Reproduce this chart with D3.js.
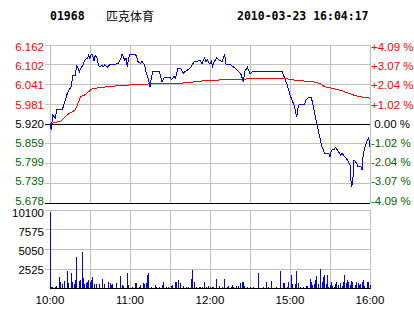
<!DOCTYPE html>
<html><head><meta charset="utf-8">
<script src="https://cdn.jsdelivr.net/npm/d3@7/dist/d3.min.js"></script>
<style>
html,body{margin:0;padding:0;background:#fff;}
svg{display:block;}
text{font-family:"Liberation Sans",Arial,sans-serif;}
</style></head>
<body>
<script>
const stockCode = "01968";
const stockName = "匹克体育";
const stamp = "2010-03-23 16:04:17";
const prevClose = 5.920;
const priceTicks = [6.162, 6.102, 6.041, 5.981, 5.920, 5.859, 5.799, 5.739, 5.678];
const pctTicks = ["+4.09 %", "+3.07 %", "+2.04 %", "+1.02 %", " 0.00 %", "-1.02 %", "-2.04 %", "-3.07 %", "-4.09 %"];
const volTicks = [10100, 7575, 5050, 2525];
const timeTicks = [0, 60, 120, 180, 240];
const timeLabels = ["10:00", "11:00", "12:00", "15:00", "16:00"];
// [trading minute since 10:00, price]
const priceLine = [[0,5.920],[1,5.902],[2,5.948],[4,5.938],[5,5.963],[9,5.963],[10,5.973],[11,5.988],[12,5.999],[13,6.014],[15,6.029],[16,6.034],[17,6.070],[19,6.070],[20,6.101],[22,6.080],[23,6.091],[25,6.101],[26,6.116],[28,6.121],[29,6.131],[30,6.121],[31,6.134],[32,6.131],[33,6.113],[34,6.131],[35,6.126],[36,6.106],[37,6.096],[39,6.099],[40,6.096],[41,6.101],[43,6.094],[45,6.103],[51,6.104],[53,6.119],[54,6.134],[55,6.126],[56,6.116],[57,6.121],[58,6.096],[59,6.121],[60,6.134],[64,6.134],[65,6.126],[66,6.111],[68,6.106],[69,6.111],[70,6.106],[71,6.101],[72,6.080],[74,6.055],[75,6.034],[76,6.060],[77,6.080],[82,6.082],[83,6.065],[84,6.050],[86,6.063],[90,6.063],[91,6.055],[93,6.065],[94,6.060],[95,6.075],[96,6.091],[98,6.091],[100,6.075],[101,6.080],[103,6.085],[105,6.091],[106,6.096],[108,6.111],[113,6.114],[114,6.103],[115,6.116],[116,6.123],[117,6.111],[118,6.116],[120,6.103],[121,6.111],[122,6.096],[123,6.109],[124,6.116],[125,6.123],[127,6.116],[129,6.111],[131,6.134],[132,6.103],[135,6.103],[136,6.099],[139,6.091],[141,6.083],[143,6.075],[145,6.050],[146,6.080],[148,6.094],[149,6.085],[150,6.072],[151,6.078],[153,6.082],[174,6.082],[176,6.060],[178,6.039],[179,6.024],[180,6.009],[181,5.999],[183,5.978],[184,5.963],[185,5.941],[186,5.968],[187,5.981],[191,5.981],[192,5.994],[194,6.002],[196,6.002],[198,5.963],[200,5.922],[202,5.886],[204,5.849],[205,5.840],[206,5.830],[209,5.830],[210,5.818],[211,5.840],[213,5.842],[214,5.849],[216,5.838],[218,5.825],[219,5.830],[221,5.820],[223,5.810],[225,5.794],[226,5.730],[227,5.738],[228,5.810],[230,5.800],[231,5.789],[233,5.791],[234,5.779],[235,5.830],[236,5.846],[238,5.871],[239,5.879],[240,5.849]];
const avgLine = [[0,5.920],[4,5.925],[8,5.929],[10,5.937],[13,5.948],[16,5.956],[19,5.963],[21,5.983],[23,6.004],[26,6.009],[29,6.019],[31,6.027],[36,6.031],[43,6.034],[50,6.037],[58,6.039],[68,6.042],[98,6.045],[106,6.048],[115,6.052],[128,6.055],[148,6.058],[165,6.060],[175,6.060],[180,6.057],[185,6.053],[197,6.050],[203,6.043],[206,6.034],[212,6.029],[219,6.022],[224,6.014],[229,6.007],[235,6.002],[240,5.999]];
const volumeBars = [[0,9900],[1,300],[2,300],[4,300],[5,430],[7,1580],[8,940],[9,640],[11,1060],[13,2340],[14,720],[16,2090],[17,850],[18,640],[19,1150],[20,4130],[22,1060],[23,1150],[24,4690],[25,1400],[26,640],[27,720],[28,940],[29,1150],[30,850],[31,1150],[32,1580],[33,640],[35,640],[37,640],[39,1280],[41,640],[44,850],[45,720],[46,550],[47,640],[50,720],[53,1700],[54,550],[55,430],[58,2000],[59,550],[62,300],[64,720],[65,720],[67,300],[68,550],[70,720],[71,640],[72,720],[73,1790],[74,2000],[76,300],[79,550],[80,300],[82,300],[84,550],[85,850],[87,300],[89,300],[91,430],[92,550],[94,940],[95,850],[96,1150],[98,720],[100,430],[102,300],[104,300],[106,1280],[107,2430],[108,850],[110,300],[112,300],[113,300],[114,300],[116,940],[117,300],[119,430],[120,300],[122,300],[123,300],[125,1280],[127,430],[129,300],[131,1280],[133,300],[134,430],[136,300],[137,550],[138,300],[140,430],[141,430],[143,720],[144,850],[145,940],[146,430],[148,300],[150,300],[153,300],[156,2000],[160,300],[162,940],[164,300],[166,1060],[170,300],[173,2260],[175,720],[176,720],[178,300],[179,850],[181,1830],[182,640],[184,640],[185,2340],[186,720],[188,300],[190,300],[192,430],[193,430],[195,1280],[196,940],[197,550],[198,640],[199,1150],[200,1700],[201,640],[203,2560],[204,940],[205,1580],[206,1830],[207,640],[208,1830],[209,300],[210,550],[211,940],[212,430],[213,300],[214,640],[215,850],[216,550],[218,720],[219,430],[220,850],[221,1830],[222,720],[223,1150],[224,850],[225,550],[226,1060],[227,850],[229,550],[230,850],[231,720],[232,550],[233,640],[234,850],[235,1150],[236,430],[238,940],[239,850],[240,550]];

const W = 414, H = 314;
const RED = "#ff0000", GREEN = "#006600", GRID = "#c0c0c0";
const svg = d3.select("body").append("svg").attr("width", W).attr("height", H);

const x = d3.scaleLinear().domain([0, 240]).range([50, 370]);
const y = d3.scaleLinear().domain([priceTicks[priceTicks.length-1], priceTicks[0]]).range([203, 45]);
const v = d3.scaleLinear().domain([0, volTicks[0]]).range([289, 210]);
// label positions (labels sit on a slightly tighter pitch than the grid, as in the reference)
const yLab = d3.scaleLinear().domain([0, priceTicks.length - 1]).range([47, 200.5]);
const vLab = d3.scaleLinear().domain([0, volTicks.length - 1]).range([212.5, 270.3]);
const px = d => Math.floor(d) + 0.5;

// header
svg.append("text").attr("x", 50).attr("y", 20).text(stockCode)
  .style("font-family", "'DejaVu Sans Mono',monospace").style("font-weight", "bold").style("font-size", "11.5px");
svg.append("text").attr("x", 106).attr("y", 21).text(stockName)
  .style("font-family", "'Noto Sans CJK SC',sans-serif").style("font-size", "12px");
svg.append("text").attr("x", 237).attr("y", 20).text(stamp)
  .style("font-family", "'DejaVu Sans Mono',monospace").style("font-weight", "bold").style("font-size", "11.5px");

const g = svg.append("g").attr("shape-rendering", "crispEdges");

// main grid
priceTicks.forEach((p, i) => {
  const yy = px(y(p));
  const isZero = Math.abs(p - prevClose) < 1e-6;
  const isBottom = i === priceTicks.length - 1;
  g.append("line").attr("x1", 45).attr("x2", 370).attr("y1", yy).attr("y2", yy)
    .attr("stroke", (isZero || isBottom) ? "#000" : GRID);
  const col = p > prevClose + 1e-6 ? RED : (isZero ? "#000" : GREEN);
  const ly = yLab(i) + 4;
  svg.append("text").attr("x", 44).attr("y", ly).attr("text-anchor", "end")
    .attr("fill", col).style("font-size", "11.5px").text(p.toFixed(3));
  svg.append("text").attr("x", 371).attr("y", ly)
    .attr("fill", col).style("font-size", "11.5px").style("white-space", "pre")
    .attr("xml:space", "preserve").text(pctTicks[i]);
});
timeTicks.concat([30, 90, 150, 210]).forEach(t => {
  const xx = px(x(t));
  g.append("line").attr("x1", xx).attr("x2", xx).attr("y1", 45).attr("y2", 203).attr("stroke", GRID);
  g.append("line").attr("x1", xx).attr("x2", xx).attr("y1", 210).attr("y2", 289).attr("stroke", GRID);
});
// redraw black lines on top of verticals
[prevClose, priceTicks[priceTicks.length-1]].forEach(p => {
  const yy = px(y(p));
  g.append("line").attr("x1", 50).attr("x2", 370).attr("y1", yy).attr("y2", yy).attr("stroke", "#000");
});

// volume grid
volTicks.forEach((t, i) => {
  const yy = px(v(t));
  g.append("line").attr("x1", 45).attr("x2", 370).attr("y1", yy).attr("y2", yy).attr("stroke", GRID);
  svg.append("text").attr("x", 44).attr("y", vLab(i) + 4).attr("text-anchor", "end")
    .attr("fill", "#000").style("font-size", "11.5px").text(t);
});

// volume bars
g.selectAll("rect.vol").data(volumeBars).enter().append("rect")
  .attr("x", d => Math.floor(x(d[0]))).attr("width", 1)
  .attr("y", d => Math.round(v(d[1]))).attr("height", d => Math.round(v(0)) - Math.round(v(d[1])))
  .attr("fill", "#0000ff");
g.append("line").attr("x1", 50).attr("x2", 370).attr("y1", px(v(0)) - 1).attr("y2", px(v(0)) - 1).attr("stroke", "#000");

// x labels
timeTicks.forEach((t, i) => {
  svg.append("text").attr("x", x(t)).attr("y", 304).attr("text-anchor", "middle")
    .attr("fill", "#000").style("font-size", "11.5px").text(timeLabels[i]);
});

// lines
const line = d3.line().x(d => x(d[0])).y(d => y(d[1]));
g.append("path").datum(avgLine).attr("d", line).attr("fill", "none").attr("stroke", RED).attr("stroke-width", 1);
g.append("path").datum(priceLine).attr("d", line).attr("fill", "none").attr("stroke", "#0000ff").attr("stroke-width", 1);
</script>
</body></html>
